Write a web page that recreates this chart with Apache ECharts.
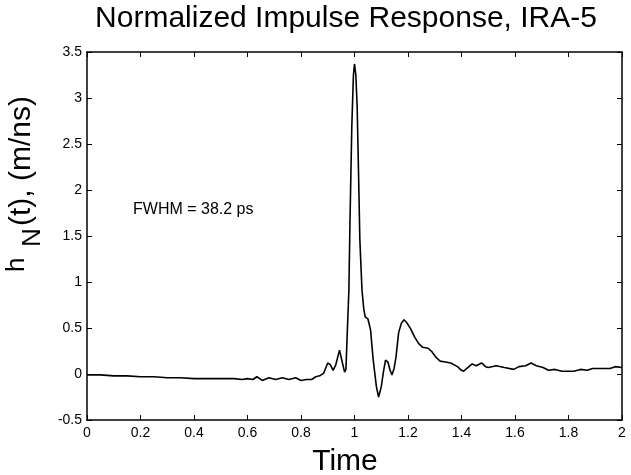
<!DOCTYPE html>
<html>
<head>
<meta charset="utf-8">
<script src="https://cdn.jsdelivr.net/npm/echarts@6/dist/echarts.min.js"></script>
<style>html,body{margin:0;padding:0;background:#fff}#c{width:631px;height:475px}</style>
</head>
<body>
<div id="c"></div>
<script>
const timeValues = [0,0.05,0.1,0.15,0.2,0.25,0.3,0.35,0.4,0.45,0.5,0.55,0.58,0.6,0.62,0.635,0.655,0.68,0.705,0.73,0.755,0.78,0.8,0.82,0.84,0.855,0.87,0.885,0.9,0.91,0.92,0.93,0.944,0.955,0.963,0.968,0.973,0.979,0.983,0.99,0.996,1.0,1.005,1.01,1.015,1.02,1.028,1.035,1.04,1.05,1.06,1.07,1.082,1.09,1.095,1.1,1.108,1.116,1.125,1.133,1.14,1.148,1.155,1.165,1.175,1.185,1.195,1.21,1.225,1.24,1.255,1.275,1.29,1.305,1.32,1.34,1.36,1.385,1.4,1.408,1.42,1.44,1.455,1.475,1.49,1.5,1.53,1.56,1.595,1.615,1.64,1.66,1.68,1.705,1.725,1.75,1.775,1.8,1.82,1.845,1.87,1.89,1.925,1.955,1.975,2.0];
const responseValues = [-0.01,-0.01,-0.02,-0.02,-0.03,-0.03,-0.04,-0.04,-0.05,-0.05,-0.05,-0.05,-0.06,-0.05,-0.06,-0.03,-0.07,-0.04,-0.06,-0.04,-0.06,-0.04,-0.07,-0.06,-0.06,-0.03,-0.02,0.01,0.12,0.10,0.04,0.10,0.26,0.12,0.02,0.05,0.45,0.91,1.64,2.7,3.25,3.37,3.25,2.9,2.2,1.46,0.91,0.7,0.62,0.60,0.48,0.15,-0.14,-0.25,-0.24,-0.14,0.02,0.15,0.13,0.04,-0.01,0.06,0.18,0.45,0.55,0.59,0.56,0.49,0.40,0.33,0.29,0.28,0.24,0.18,0.14,0.13,0.12,0.08,0.04,0.03,0.06,0.11,0.09,0.12,0.08,0.07,0.09,0.07,0.05,0.08,0.09,0.12,0.09,0.07,0.04,0.05,0.03,0.03,0.03,0.05,0.04,0.06,0.06,0.06,0.08,0.07];
const titleText = 'Normalized Impulse Response, IRA-5';
const xLabel = 'Time';
const annotation = 'FWHM = 38.2 ps';

const FONT = "'Liberation Sans', Arial, sans-serif";
const chart = echarts.init(document.getElementById('c'));
const data = timeValues.map((t, i) => [t, responseValues[i]]);
const axisCommon = {
  axisLine: {show: true, onZero: false, lineStyle: {color: '#000', width: 1.5}},
  axisTick: {show: true, inside: true, length: 5, lineStyle: {color: '#000', width: 1}},
  splitLine: {show: false}
};
chart.setOption({
  animation: false,
  backgroundColor: '#fff',
  grid: {left: 87, top: 52, right: 9, bottom: 55, containLabel: false},
  xAxis: [
    Object.assign({type: 'value', min: 0, max: 2, interval: 0.2, position: 'bottom',
      axisLabel: {color: '#000', fontSize: 14, fontFamily: FONT, margin: 6}}, axisCommon),
    Object.assign({type: 'value', min: 0, max: 2, interval: 0.2, position: 'top',
      axisLabel: {show: false}}, axisCommon)
  ],
  yAxis: [
    Object.assign({type: 'value', min: -0.5, max: 3.5, interval: 0.5, position: 'left',
      axisLabel: {color: '#000', fontSize: 14, fontFamily: FONT, margin: 5}}, axisCommon),
    Object.assign({type: 'value', min: -0.5, max: 3.5, interval: 0.5, position: 'right',
      axisLabel: {show: false}}, axisCommon)
  ],
  series: [{
    type: 'line', data: data, showSymbol: false, symbol: 'none', smooth: false,
    lineStyle: {color: '#000', width: 1.6}, xAxisIndex: 0, yAxisIndex: 0
  }],
  graphic: [
    {type: 'text', x: 346, y: 4, style: {text: titleText, font: '30px ' + FONT, fill: '#000', textAlign: 'center', verticalAlign: 'top'}},
    {type: 'text', x: 345, y: 447, style: {text: xLabel, font: '30px ' + FONT, fill: '#000', textAlign: 'center', verticalAlign: 'top'}},
    {type: 'text', x: 133, y: 210, style: {text: annotation, font: '16px ' + FONT, fill: '#000', textAlign: 'left', verticalAlign: 'middle'}},
    {type: 'group', x: 36, y: 275, rotation: Math.PI / 2, children: [
      {type: 'text', x: 3, y: -6, style: {text: 'h', font: '26px ' + FONT, fill: '#000', textAlign: 'left', verticalAlign: 'bottom'}},
      {type: 'text', x: 28, y: 10, style: {text: 'N', font: '26px ' + FONT, fill: '#000', textAlign: 'left', verticalAlign: 'bottom'}},
      {type: 'text', x: 49, y: 1, style: {text: '(t), (m/ns)', font: '30px ' + FONT, fill: '#000', textAlign: 'left', verticalAlign: 'bottom'}}
    ]}
  ]
});
</script>
</body>
</html>
